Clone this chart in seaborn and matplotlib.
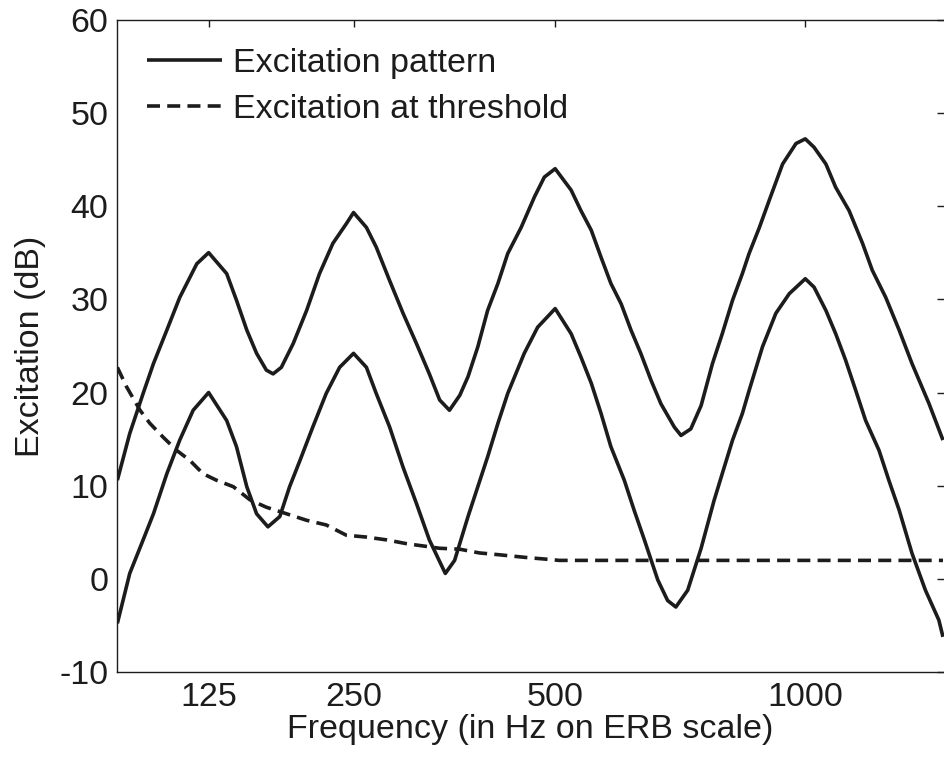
import numpy as np
import pandas as pd
import matplotlib
matplotlib.use("Agg")
import matplotlib.pyplot as plt
from matplotlib.lines import Line2D
import seaborn as sns

# ---- data (x in ERB-number units, Cams; y in dB) ----
upper_erb = [2.28, 2.52, 2.78, 2.98, 3.24, 3.49, 3.82, 4.05, 4.40, 4.59, 4.79, 4.98,
             5.17, 5.30, 5.46, 5.69, 5.95, 6.20, 6.46, 6.72, 6.86, 7.11, 7.30, 7.56,
             7.82, 8.08, 8.33, 8.53, 8.72, 8.92, 9.08, 9.27, 9.46, 9.66, 9.85, 10.11,
             10.37, 10.56, 10.77, 11.08, 11.27, 11.47, 11.66, 11.85, 12.05, 12.24,
             12.43, 12.63, 12.82, 13.08, 13.21, 13.40, 13.60, 13.82, 14.01, 14.21,
             14.40, 14.53, 14.73, 14.92, 15.18, 15.44, 15.62, 15.79, 16.02, 16.21,
             16.47, 16.73, 16.92, 17.18, 17.44, 17.69, 18.02, 18.29]
upper_db = [10.6, 15.6, 19.9, 23.1, 26.7, 30.2, 33.8, 35.0, 32.75, 29.9, 26.7, 24.2,
            22.4, 22.0, 22.7, 25.25, 28.8, 32.75, 36.0, 38.1, 39.3, 37.7, 35.6, 32.0,
            28.5, 25.25, 22.0, 19.2, 18.1, 19.7, 21.7, 24.9, 28.8, 31.7, 34.9, 37.7,
            41.0, 43.1, 44.0, 41.7, 39.5, 37.4, 34.5, 31.7, 29.5, 26.7,
            24.2, 21.3, 18.8, 16.3, 15.4, 16.1, 18.6, 23.1, 26.3, 29.9,
            32.75, 34.9, 37.7, 40.6, 44.5, 46.7, 47.2, 46.3, 44.5, 42.0,
            39.5, 36.0, 33.1, 30.2, 26.7, 23.1, 18.8, 14.9]

lower_erb = [2.28, 2.52, 2.78, 2.98, 3.24, 3.49, 3.75, 4.05, 4.40, 4.59, 4.79, 4.98,
             5.20, 5.43, 5.62, 5.82, 6.07, 6.33, 6.59, 6.86, 7.11, 7.30, 7.56, 7.82,
             8.08, 8.33, 8.64, 8.82, 9.08, 9.27, 9.46, 9.66, 9.85, 10.17, 10.43,
             10.77, 11.08, 11.27, 11.47, 11.66, 11.85, 12.11, 12.30, 12.50, 12.76,
             12.95, 13.11, 13.34, 13.60, 13.85, 14.01, 14.21, 14.40, 14.53, 14.79,
             15.05, 15.31, 15.62, 15.79, 16.02, 16.21, 16.40, 16.60, 16.79, 17.05,
             17.24, 17.44, 17.69, 17.95, 18.21, 18.29]
lower_db = [-4.75, 0.6, 4.2, 7.0, 11.3, 14.9, 18.1, 20.0, 17.0, 14.2, 9.9, 7.0,
            5.6, 6.7, 9.9, 12.7, 16.3, 19.9, 22.7, 24.2, 22.7, 19.9, 16.3, 12.0,
            8.1, 4.2, 0.6, 2.0, 6.7, 9.9, 13.1, 16.7, 19.9, 24.2, 27.0,
            29.0, 26.3, 23.8, 21.0, 17.75, 14.2, 10.6, 7.4, 4.2, -0.1,
            -2.3, -3.0, -1.2, 3.3, 8.4, 11.3, 14.9, 17.75, 20.2, 24.9,
            28.5, 30.6, 32.2, 31.3, 28.8, 26.3, 23.5, 20.2, 17.0, 13.8,
            10.6, 7.4, 2.75, -1.2, -4.4, -6.2]

thresh_erb = [2.28, 2.46, 2.72, 2.91, 3.17, 3.43, 3.69, 3.94, 4.20, 4.53, 4.85, 5.17,
              5.56, 5.95, 6.33, 6.72, 7.11, 7.50, 7.88, 8.27, 8.53, 8.92, 9.30, 9.69,
              10.23, 10.66, 10.85, 18.29]
thresh_db = [22.7, 20.6, 18.1, 16.7, 15.2, 13.8, 12.7, 11.3, 10.6, 9.9, 8.5, 7.7,
             7.0, 6.3, 5.8, 4.7, 4.5, 4.2, 3.8, 3.5, 3.3, 3.2, 2.8, 2.6,
             2.3, 2.1, 2.0, 2.0]

tick_freqs = [125, 250, 500, 1000]
y_ticks = [-10, 0, 10, 20, 30, 40, 50, 60]
legend_labels = ["Excitation pattern", "Excitation at threshold"]
x_label = "Frequency (in Hz on ERB scale)"
y_label = "Excitation (dB)"


def hz_to_erb(f):
    f = np.asarray(f, dtype=float)
    return 21.4 * np.log10(1 + 0.00437 * f)


sns.set_theme(style="white")
plt.rcParams["font.family"] = ["Liberation Sans", "DejaVu Sans"]
plt.rcParams["axes.unicode_minus"] = False

ink = "#1c1c1c"
fs = 24.5

fig = plt.figure(figsize=(9.44, 7.6), dpi=100)
ax = fig.add_axes([117.3 / 944, 1 - 672.3 / 760, (944 - 117.3) / 944, (672.3 - 19.5) / 760])

lw = 2.6
dash = [3.6, 2.0]
df_up = pd.DataFrame({"erb": upper_erb, "db": upper_db})
df_lo = pd.DataFrame({"erb": lower_erb, "db": lower_db})
df_th = pd.DataFrame({"erb": thresh_erb, "db": thresh_db})

sns.lineplot(data=df_up, x="erb", y="db", ax=ax, color=ink, linewidth=lw)
sns.lineplot(data=df_lo, x="erb", y="db", ax=ax, color=ink, linewidth=lw)
sns.lineplot(data=df_th, x="erb", y="db", ax=ax, color=ink, linewidth=lw)
ax.lines[-1].set_dashes(dash)
for ln in ax.lines:
    ln.set_solid_capstyle("butt")
    ln.set_dash_capstyle("butt")

ax.set_xlim(thresh_erb[0] - 0.001, 18.31)
ax.set_ylim(-10, 60)
ax.set_xticks(hz_to_erb(tick_freqs))
ax.set_xticklabels([str(f) for f in tick_freqs])
ax.set_yticks(y_ticks)
ax.set_yticklabels([str(v) for v in y_ticks])

ax.tick_params(axis="both", which="major", direction="in", length=5.3,
               width=1.0, colors=ink, labelsize=fs, top=True, right=True)
ax.tick_params(axis="x", pad=7.0)
ax.tick_params(axis="y", pad=6.3)
for name, sp in ax.spines.items():
    sp.set_color(ink)
    sp.set_linewidth(1.0)
ax.spines["right"].set_visible(False)

ax.set_xlabel(x_label, fontsize=fs, color=ink, labelpad=1.0)
ax.set_ylabel(y_label, fontsize=fs, color=ink, labelpad=9.5)

h1 = Line2D([], [], color=ink, linewidth=lw, solid_capstyle="butt")
h2 = Line2D([], [], color=ink, linewidth=lw, dashes=dash, dash_capstyle="butt")
ax.legend([h1, h2], legend_labels, loc="upper left", bbox_to_anchor=(0.036, 0.956),
          frameon=False, fontsize=fs, handlelength=2.2, handletextpad=0.32,
          borderpad=0, borderaxespad=0, labelspacing=0.42, labelcolor=ink)

fig.savefig("out.png", dpi=100)
